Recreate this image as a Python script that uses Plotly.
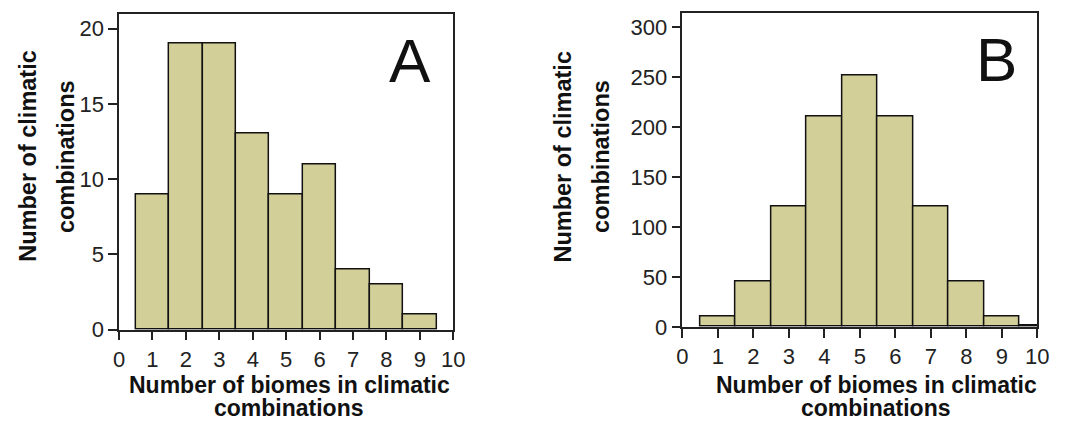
import plotly.graph_objects as go

W, H = 1067, 431

# Data
biomes_a = [1, 2, 3, 4, 5, 6, 7, 8, 9]
counts_a = [9, 19, 19, 13, 9, 11, 4, 3, 1]
biomes_b = [1, 2, 3, 4, 5, 6, 7, 8, 9, 10]
counts_b = [10, 45, 120, 210, 252, 210, 120, 45, 10, 1]
x_ticks = [0, 1, 2, 3, 4, 5, 6, 7, 8, 9, 10]
y_ticks_a = [0, 5, 10, 15, 20]
y_ticks_b = [0, 50, 100, 150, 200, 250, 300]

x_title_lines = ["Number of biomes in climatic", "combinations"]
y_title_lines = ["Number of climatic", "combinations"]

FILL = "#d3cf99"
FONT = "Liberation Sans, Arial, sans-serif"


def px(x):
    return x / W


def py(y):
    return (H - y) / H


fig = go.Figure()
fig.add_trace(go.Bar(x=biomes_a, y=counts_a, width=1, xaxis="x", yaxis="y",
                     marker=dict(color=FILL, line=dict(color="#111", width=1.5)),
                     showlegend=False))
fig.add_trace(go.Bar(x=biomes_b, y=counts_b, width=1, xaxis="x2", yaxis="y2",
                     marker=dict(color=FILL, line=dict(color="#111", width=1.5)),
                     showlegend=False))

axis_common = dict(showline=True, linecolor="#222", linewidth=1.5, mirror=True,
                   ticks="outside", ticklen=9, tickwidth=1.5, tickcolor="#222",
                   showgrid=False, zeroline=False,
                   tickfont=dict(family=FONT, size=22, color="#222"))

fig.update_layout(
    width=W, height=H,
    margin=dict(l=0, r=0, t=0, b=0),
    paper_bgcolor="white", plot_bgcolor="white",
    bargap=0,
    xaxis=dict(domain=[px(115), px(455)], range=[0, 10], tickvals=x_ticks,
               anchor="y", **axis_common),
    yaxis=dict(domain=[py(340), py(14)], range=[0, 21.0], tickvals=y_ticks_a,
               anchor="x", **axis_common),
    xaxis2=dict(domain=[px(688), px(1049)], range=[0, 10], tickvals=x_ticks,
                anchor="y2", **axis_common),
    yaxis2=dict(domain=[py(337), py(13)], range=[0, 314.6], tickvals=y_ticks_b,
                anchor="x2", **axis_common),
)

title_font = dict(family=FONT, size=23, color="#111")
annotations = []
for cx in (288, 885):
    for text, cy in zip(x_title_lines, (397, 421)):
        annotations.append(dict(x=px(cx), y=py(cy), text="<b>%s</b>" % text,
                                font=title_font))
for x1, x2 in ((23, 61), (567, 605)):
    for text, cx in zip(y_title_lines, (x1, x2)):
        annotations.append(dict(x=px(cx), y=py(161), text="<b>%s</b>" % text,
                                font=dict(family=FONT, size=23.5, color="#111"),
                                textangle=-90))
annotations.append(dict(x=px(411), y=py(62), text="A",
                        font=dict(family=FONT, size=62, color="#111")))
annotations.append(dict(x=px(1008), y=py(61), text="B",
                        font=dict(family=FONT, size=62, color="#111")))
for a in annotations:
    a.update(xref="paper", yref="paper", showarrow=False, xanchor="center",
             yanchor="middle")
fig.update_layout(annotations=annotations)

post = """
var s = document.createElement('style');
s.innerHTML = 'html,body{margin:0;padding:0;overflow:hidden;}';
document.head.appendChild(s);
"""
fig.write_html("out.html", config={"displayModeBar": False}, post_script=post)
